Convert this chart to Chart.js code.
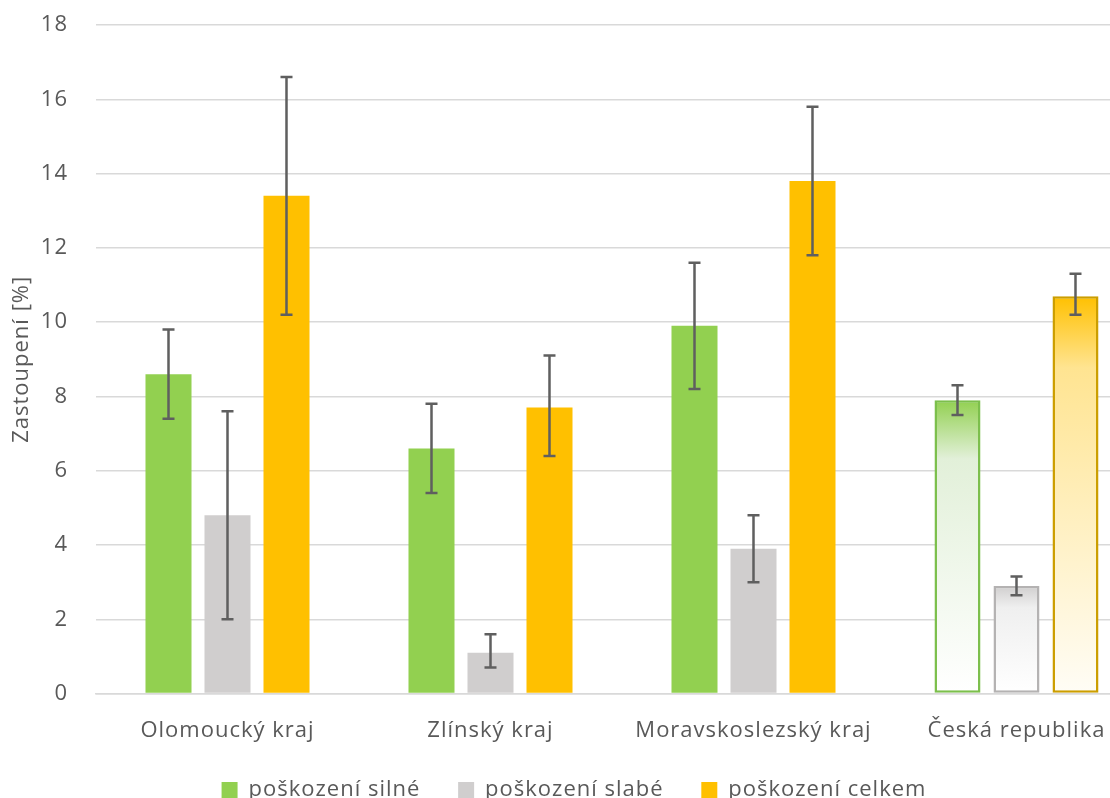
<!DOCTYPE html>
<html>
<head>
<meta charset="utf-8">
<script src="https://cdn.jsdelivr.net/npm/chart.js@4"></script>
<style>
  html, body { margin: 0; padding: 0; overflow: hidden; background: #fff; }
  #wrap { position: absolute; left: 0; top: 0; width: 1150px; height: 811px; }
</style>
</head>
<body>
<div id="wrap"><canvas id="c" width="1150" height="811"></canvas></div>
<script>
/* ===== DATA ===== */
const categories = ["Olomoucký kraj", "Zlínský kraj", "Moravskoslezský kraj", "Česká republika"];
const seriesNames = ["poškození silné", "poškození slabé", "poškození celkem"];

const silne = [8.6, 6.6, 9.9, 7.9];
const silneLow = [7.4, 5.4, 8.2, 7.5];
const silneHigh = [9.8, 7.8, 11.6, 8.3];

const slabe = [4.8, 1.1, 3.9, 2.9];
const slabeLow = [2.0, 0.7, 3.0, 2.65];
const slabeHigh = [7.6, 1.6, 4.8, 3.15];

const celkem = [13.4, 7.7, 13.8, 10.7];
const celkemLow = [10.2, 6.4, 11.8, 10.2];
const celkemHigh = [16.6, 9.1, 15.8, 11.3];

const yTicks = [0, 2, 4, 6, 8, 10, 12, 14, 16, 18];

/* ===== STYLE ===== */
const FONT = "'Open Sans', sans-serif";
const TXT = "#595959";
const GRID = "#d9d9d9";

// index of the bar drawn with gradient + outline (Česká republika)
const GRAD_IDX = 3;

function gradFill(solid, mid, end, stop) {
  return ctx => {
    if (ctx.dataIndex !== GRAD_IDX) return solid;
    const chart = ctx.chart;
    if (!chart.chartArea) return solid;
    const y = chart.scales.y;
    const top = y.getPixelForValue(ctx.raw);
    const bot = y.getPixelForValue(0);
    const g = chart.ctx.createLinearGradient(0, top, 0, bot);
    g.addColorStop(0, solid);
    g.addColorStop(stop, mid);
    g.addColorStop(1, end);
    return g;
  };
}

function makeSet(label, data, low, high, solid, mid, end, stop, outline) {
  return {
    label,
    data,
    errLow: low,
    errHigh: high,
    backgroundColor: gradFill(solid, mid, end, stop),
    borderColor: ctx => ctx.dataIndex === GRAD_IDX ? outline : solid,
    borderWidth: ctx => ctx.dataIndex === GRAD_IDX ? 2.5 : 0,
    borderSkipped: false,
    barPercentage: 0.78,
    categoryPercentage: 0.673
  };
}

/* ===== PLUGINS ===== */
// wider letter spacing, the original text is spaced out
const spacing = {
  id: "spacing",
  beforeUpdate(chart) { chart.ctx.letterSpacing = "1px"; },
  beforeDraw(chart) { chart.ctx.letterSpacing = "1px"; }
};

const errorBars = {
  id: "errorBars",
  afterDatasetsDraw(chart) {
    const c = chart.ctx;
    const y = chart.scales.y;
    c.save();
    c.strokeStyle = "#5f5f5f";
    c.lineWidth = 2.5;
    chart.data.datasets.forEach((ds, i) => {
      const meta = chart.getDatasetMeta(i);
      meta.data.forEach((bar, j) => {
        const yl = y.getPixelForValue(ds.errLow[j]);
        const yh = y.getPixelForValue(ds.errHigh[j]);
        const x = bar.x;
        c.beginPath();
        c.moveTo(x, yl); c.lineTo(x, yh);
        c.moveTo(x - 6, yl); c.lineTo(x + 6, yl);
        c.moveTo(x - 6, yh); c.lineTo(x + 6, yh);
        c.stroke();
      });
    });
    c.restore();
  }
};

/* ===== CHART ===== */
new Chart(document.getElementById("c"), {
  type: "bar",
  data: {
    labels: categories,
    datasets: [
      makeSet(seriesNames[0], silne, silneLow, silneHigh, "#92d050", "#e2f0d9", "#ffffff", 0.2, "#7cbf4c"),
      makeSet(seriesNames[1], slabe, slabeLow, slabeHigh, "#d0cece", "#efefef", "#ffffff", 0.2, "#b4b2b2"),
      makeSet(seriesNames[2], celkem, celkemLow, celkemHigh, "#ffc000", "#ffe491", "#fffdf6", 0.18, "#cc9e00")
    ]
  },
  options: {
    responsive: false,
    animation: false,
    devicePixelRatio: 1,
    layout: { padding: { top: 25, right: 2, left: 0, bottom: 0 } },
    plugins: {
      tooltip: { enabled: false },
      legend: {
        position: "bottom",
        labels: {
          color: TXT,
          font: { family: FONT, size: 22 },
          boxWidth: 16,
          boxHeight: 16,
          padding: 19,
          generateLabels(chart) {
            const items = Chart.defaults.plugins.legend.labels.generateLabels(chart);
            // trailing spaces widen the gaps between items (legend padding would also grow the height)
            items.forEach((it, i) => {
              if (i < items.length - 1) it.text += "\u2002\u00a0";
            });
            return items;
          }
        }
      }
    },
    scales: {
      x: {
        grid: { display: false },
        border: { color: GRID, width: 1.5 },
        ticks: { color: TXT, font: { family: FONT, size: 22 }, padding: 16 }
      },
      y: {
        min: 0,
        max: 18,
        afterBuildTicks: s => { s.ticks = yTicks.map(v => ({ value: v })); },
        afterFit: s => { s.width = 96; s.paddingTop = 0; s.paddingBottom = 0; },
        grid: { color: GRID, lineWidth: 1.5, drawTicks: false },
        border: { display: false },
        ticks: { color: TXT, font: { family: FONT, size: 22 }, padding: 28 },
        title: {
          display: true,
          text: "Zastoupení [%]",
          color: TXT,
          font: { family: FONT, size: 22 },
          padding: { top: 9, bottom: 0 }
        }
      }
    }
  },
  plugins: [spacing, errorBars]
});
</script>
</body>
</html>
